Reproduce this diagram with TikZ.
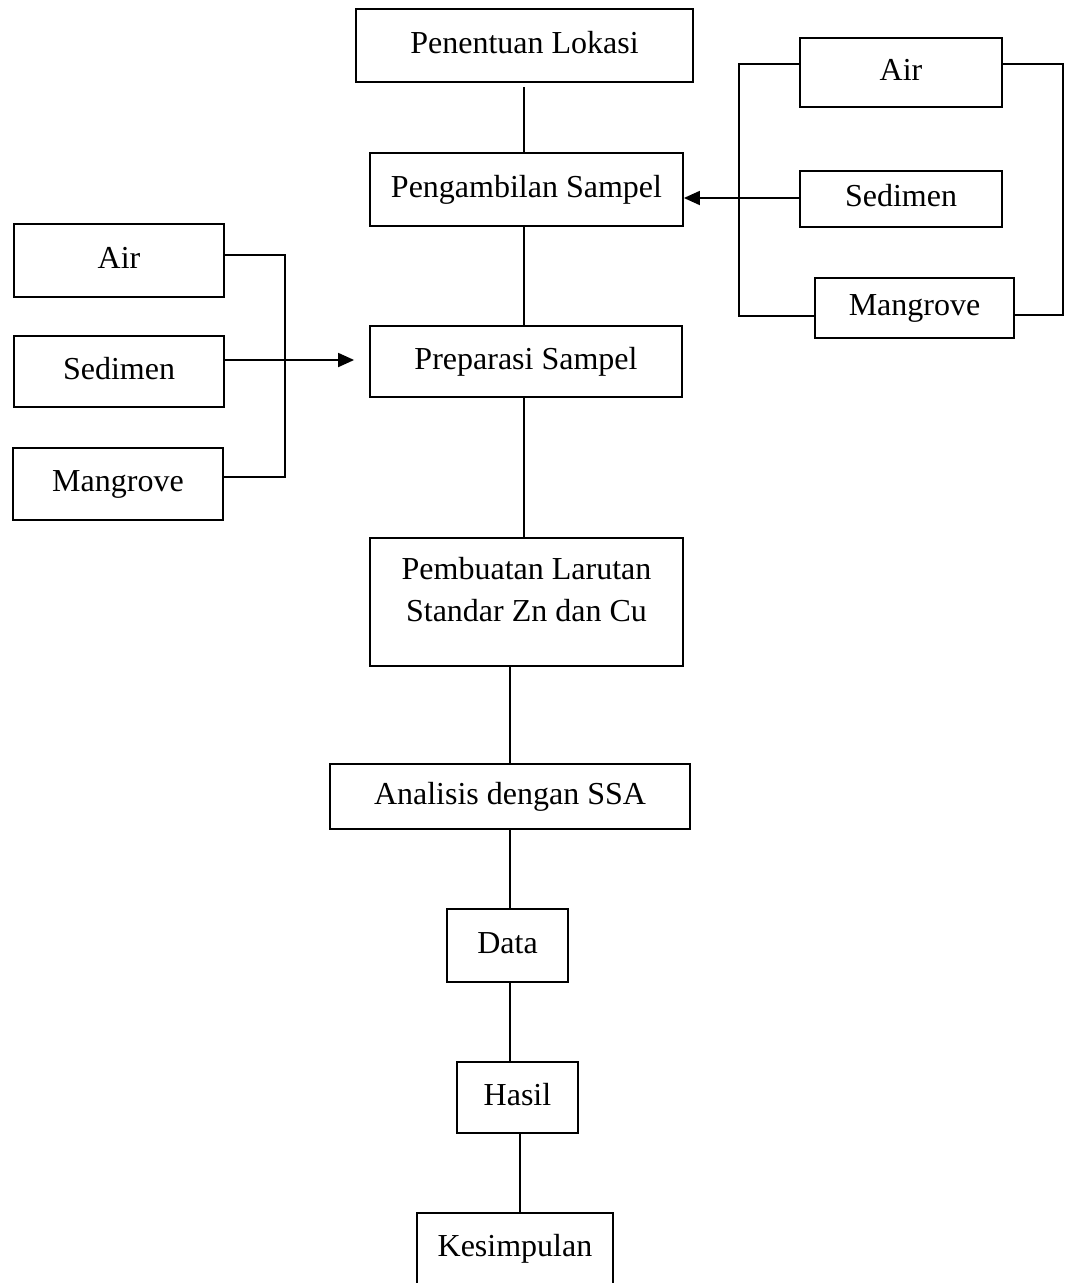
\documentclass[tikz,border=0pt]{standalone}
\usepackage{fontspec}
\setmainfont{Liberation Serif}
\usetikzlibrary{arrows.meta,calc}
\begin{document}
\begin{tikzpicture}[x=1pt,y=-1pt, line width=1.8pt,
  box/.style={draw, rectangle, inner sep=0pt, line width=1.8pt,
    font=\fontsize{32}{42}\selectfont, text height=22pt, text depth=7pt},
  txt/.style={inner sep=0pt, align=center, font=\fontsize{32}{42}\selectfont},
  arr/.style={-{Triangle[length=16pt,width=14pt]}}]
\clip (0,0) rectangle (1067,1283);
\fill[white] (0,0) rectangle (1067,1283);
% main column
\node[box, minimum width=337pt, minimum height=73pt] (pen) at (524.5,45.5) {Penentuan Lokasi};
\node[box, minimum width=313pt, minimum height=73pt] (peng) at (526.5,189.5) {Pengambilan Sampel};
\node[box, minimum width=312pt, minimum height=71pt] (prep) at (526,361.5) {Preparasi Sampel};
\node[box, minimum width=313pt, minimum height=128pt] (pemb) at (526.5,602) {};
\node[txt] (pembtxt) at (526.5,590) {Pembuatan Larutan\\Standar Zn dan Cu};
\node[box, minimum width=360pt, minimum height=65pt] (anal) at (510,796.5) {Analisis dengan SSA};
\node[box, minimum width=121pt, minimum height=73pt] (data) at (507.5,945.5) {Data};
\node[box, minimum width=121pt, minimum height=71pt] (hasil) at (517.5,1097.5) {Hasil};
\node[box, minimum width=196pt, minimum height=72pt] (kes) at (515,1249) {Kesimpulan};
% right group
\node[box, minimum width=202pt, minimum height=69pt] (rair) at (901,72.5) {Air};
\node[box, minimum width=202pt, minimum height=56pt] (rsed) at (901,199) {Sedimen};
\node[box, minimum width=199pt, minimum height=60pt] (rmang) at (914.5,308) {Mangrove};
% left group
\node[box, minimum width=210pt, minimum height=73pt] (lair) at (119,260.5) {Air};
\node[box, minimum width=210pt, minimum height=71pt] (lsed) at (119,371.5) {Sedimen};
\node[box, minimum width=210pt, minimum height=72pt] (lmang) at (118,484) {Mangrove};
% main connectors
\draw ([xshift=-0.5pt,yshift=-4pt]pen.south) -- ([xshift=-0.5pt]pen.south |- peng.north);
\draw ([xshift=-2.5pt]peng.south) -- ([xshift=-2.5pt]peng.south |- prep.north);
\draw ([xshift=-2pt]prep.south) -- ([xshift=-2pt]prep.south |- pemb.north);
\draw (pemb.south -| anal.north) -- (anal.north);
\draw (anal.south) -- (anal.south |- data.north);
\draw ([xshift=2.5pt]data.south) -- ([xshift=2.5pt]data.south |- hasil.north);
\draw ([xshift=2.5pt]hasil.south) -- ([xshift=2.5pt]hasil.south |- kes.north);
% right bracket
\draw ([yshift=8.5pt]rair.west) -- ++(-60,0) |- ([yshift=-8pt]rmang.west);
\draw ([yshift=8.5pt]rair.east) -- ++(60,0) |- ([yshift=-7pt]rmang.east);
\draw[arr] ([yshift=1pt]rsed.west) -- ([yshift=1pt]rsed.west -| peng.east);
% left bracket
\draw ([yshift=5.5pt]lair.east) -- ++(60,0) |- ([yshift=7pt]lmang.east);
\draw[arr] ([yshift=1.5pt]lsed.east |- prep.west) -- ([xshift=-15pt,yshift=1.5pt]prep.west);
\end{tikzpicture}
\end{document}
